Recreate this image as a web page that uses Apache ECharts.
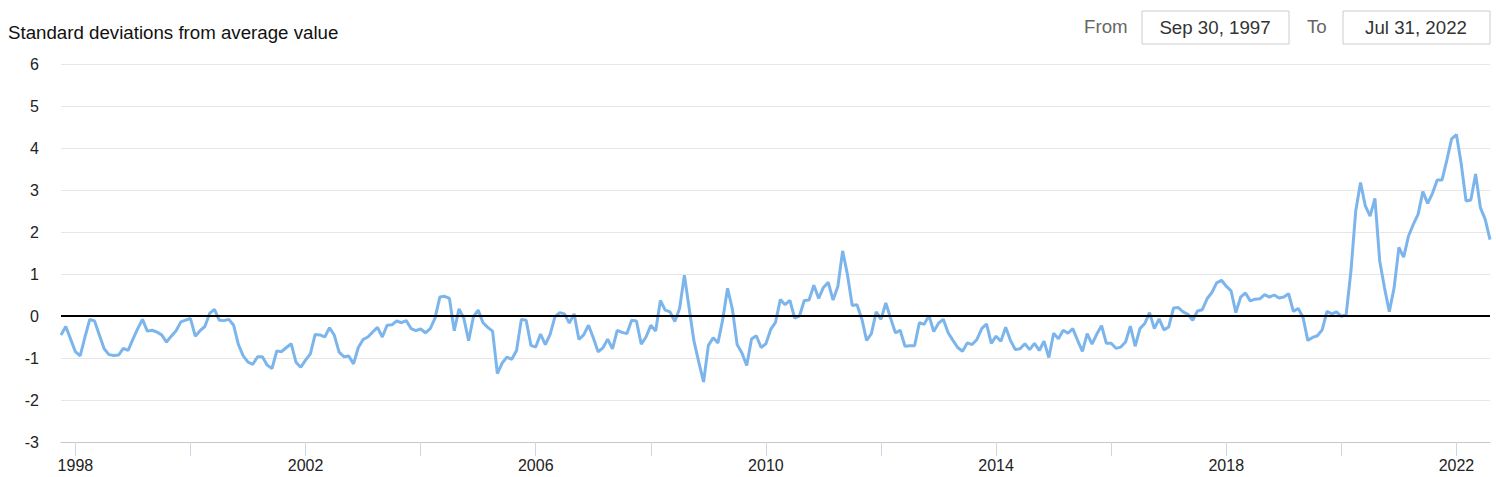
<!DOCTYPE html>
<html><head><meta charset="utf-8">
<script src="https://cdn.jsdelivr.net/npm/echarts@6/dist/echarts.min.js"></script>
<style>html,body{margin:0;padding:0;background:#fff}#chart{width:1496px;height:477px}</style>
</head><body><div id="chart"></div>
<script>
// Monthly (end of month) values, Sep 1997 .. Jul 2022, standard deviations from average value
const firstYear = 1997, firstMonth = 9;
const v1997 = [-0.45, -0.25, -0.55, -0.85];
const v1998 = [-0.95, -0.5, -0.08, -0.12, -0.45, -0.78, -0.92, -0.94, -0.93, -0.77, -0.82, -0.55];
const v1999 = [-0.3, -0.08, -0.36, -0.34, -0.38, -0.45, -0.62, -0.48, -0.35, -0.14, -0.1, -0.06];
const v2000 = [-0.48, -0.35, -0.25, 0.06, 0.16, -0.1, -0.11, -0.08, -0.22, -0.68, -0.95, -1.1];
const v2001 = [-1.15, -0.97, -0.97, -1.17, -1.25, -0.83, -0.85, -0.75, -0.66, -1.1, -1.22, -1.05];
const v2002 = [-0.9, -0.44, -0.45, -0.5, -0.28, -0.46, -0.86, -0.97, -0.95, -1.14, -0.75, -0.56];
const v2003 = [-0.5, -0.38, -0.27, -0.5, -0.22, -0.21, -0.12, -0.16, -0.11, -0.3, -0.35, -0.31];
const v2004 = [-0.4, -0.3, -0.05, 0.45, 0.47, 0.42, -0.35, 0.17, -0.05, -0.59, -0.02, 0.14];
const v2005 = [-0.16, -0.27, -0.36, -1.37, -1.12, -0.98, -1.03, -0.82, -0.08, -0.1, -0.7, -0.74];
const v2006 = [-0.43, -0.68, -0.44, -0.02, 0.08, 0.05, -0.17, 0.05, -0.56, -0.45, -0.22, -0.52];
const v2007 = [-0.85, -0.76, -0.55, -0.78, -0.34, -0.39, -0.42, -0.1, -0.12, -0.67, -0.5, -0.22];
const v2008 = [-0.36, 0.37, 0.14, 0.1, -0.13, 0.18, 0.97, 0.18, -0.6, -1.1, -1.57, -0.7];
const v2009 = [-0.52, -0.64, -0.08, 0.66, 0.17, -0.68, -0.88, -1.18, -0.55, -0.47, -0.75, -0.66];
const v2010 = [-0.32, -0.15, 0.39, 0.27, 0.37, -0.05, 0.0, 0.37, 0.38, 0.73, 0.42, 0.68];
const v2011 = [0.8, 0.38, 0.7, 1.55, 0.99, 0.25, 0.27, -0.07, -0.58, -0.42, 0.1, -0.08];
const v2012 = [0.31, -0.05, -0.4, -0.34, -0.72, -0.71, -0.71, -0.16, -0.2, 0.01, -0.37, -0.17];
const v2013 = [-0.08, -0.4, -0.58, -0.75, -0.84, -0.64, -0.68, -0.56, -0.3, -0.19, -0.65, -0.48];
const v2014 = [-0.6, -0.27, -0.58, -0.8, -0.78, -0.66, -0.8, -0.65, -0.82, -0.6, -0.99, -0.41];
const v2015 = [-0.54, -0.34, -0.41, -0.3, -0.58, -0.84, -0.42, -0.67, -0.43, -0.23, -0.65, -0.65];
const v2016 = [-0.77, -0.74, -0.62, -0.24, -0.72, -0.3, -0.18, 0.08, -0.3, -0.07, -0.33, -0.26];
const v2017 = [0.19, 0.2, 0.1, 0.04, -0.1, 0.12, 0.15, 0.41, 0.56, 0.79, 0.85, 0.71];
const v2018 = [0.6, 0.08, 0.45, 0.55, 0.36, 0.4, 0.41, 0.51, 0.45, 0.5, 0.43, 0.45];
const v2019 = [0.53, 0.11, 0.18, -0.03, -0.58, -0.51, -0.47, -0.33, 0.11, 0.05, 0.1, -0.01];
const v2020 = [0.03, 1.07, 2.5, 3.18, 2.62, 2.38, 2.8, 1.31, 0.67, 0.1, 0.67, 1.63];
const v2021 = [1.4, 1.9, 2.18, 2.42, 2.96, 2.68, 2.92, 3.24, 3.24, 3.71, 4.22, 4.32];
const v2022 = [3.62, 2.74, 2.76, 3.38, 2.58, 2.3, 1.82];
const yearValues = [v1997, v1998, v1999, v2000, v2001, v2002, v2003, v2004, v2005, v2006, v2007,
  v2008, v2009, v2010, v2011, v2012, v2013, v2014, v2015, v2016, v2017, v2018, v2019, v2020, v2021, v2022];

const xTickYears = [1998, 2000, 2002, 2004, 2006, 2008, 2010, 2012, 2014, 2016, 2018, 2020, 2022];
const xLabelYears = [1998, 2002, 2006, 2010, 2014, 2018, 2022];
const yMin = -3, yMax = 6, yStep = 1;
const axisTitle = 'Standard deviations from average value';
const fromLabel = 'From', toLabel = 'To';
const fromDate = 'Sep 30, 1997', toDate = 'Jul 31, 2022';

// build [decimal year, value] pairs (end of month)
const data = [];
yearValues.forEach((arr, yi) => {
  const year = firstYear + yi;
  const m0 = yi === 0 ? firstMonth : 1;
  arr.forEach((v, k) => data.push([year + (m0 + k) / 12, v]));
});
const xMin = data[0][0], xMax = data[data.length - 1][0];

const FONT = "'Liberation Sans', Arial, sans-serif";
const chart = echarts.init(document.getElementById('chart'), null, {renderer: 'svg'});
chart.setOption({
  animation: false,
  backgroundColor: '#fff',
  grid: {left: 61, right: 6, top: 64, bottom: 35, containLabel: false},
  xAxis: {
    type: 'value', min: xMin, max: xMax,
    splitLine: {show: false},
    axisLine: {show: true, onZero: false, lineStyle: {color: '#c8c8c8', width: 1}},
    axisTick: {show: true, customValues: xTickYears, length: 14, lineStyle: {color: '#ccd6eb', width: 1}},
    axisLabel: {customValues: xLabelYears, formatter: v => String(Math.round(v)), color: '#222',
      fontSize: 16, fontFamily: FONT, margin: 15}
  },
  yAxis: {
    type: 'value', min: yMin, max: yMax, interval: yStep,
    axisLine: {show: false}, axisTick: {show: false},
    splitLine: {lineStyle: {color: '#e6e6e6', width: 1}},
    axisLabel: {color: '#222', fontSize: 16, fontFamily: FONT, margin: 22}
  },
  graphic: [
    {type: 'text', left: 8, top: 23, style: {text: axisTitle, fill: '#111', font: '18.7px ' + FONT}},
    {type: 'text', left: 1084, top: 17, style: {text: fromLabel, fill: '#666', font: '18.7px ' + FONT}},
    {type: 'rect', shape: {x: 1142, y: 11, width: 147, height: 33}, style: {fill: '#fff', stroke: '#cccccc', lineWidth: 1}},
    {type: 'text', x: 1215, y: 27.5, style: {text: fromDate, fill: '#333', font: '18.7px ' + FONT, align: 'center', verticalAlign: 'middle'}},
    {type: 'text', left: 1307, top: 17, style: {text: toLabel, fill: '#666', font: '18.7px ' + FONT}},
    {type: 'rect', shape: {x: 1343, y: 11, width: 147, height: 33}, style: {fill: '#fff', stroke: '#cccccc', lineWidth: 1}},
    {type: 'text', x: 1416, y: 27.5, style: {text: toDate, fill: '#333', font: '18.7px ' + FONT, align: 'center', verticalAlign: 'middle'}}
  ],
  series: [{
    type: 'line', data: data, showSymbol: false, symbol: 'none',
    lineStyle: {color: '#7cb5ec', width: 3}, itemStyle: {color: '#7cb5ec'},
    markLine: {silent: true, symbol: 'none', label: {show: false},
      lineStyle: {color: '#000', width: 2, type: 'solid'}, data: [{yAxis: 0}]}
  }]
});
</script></body></html>
